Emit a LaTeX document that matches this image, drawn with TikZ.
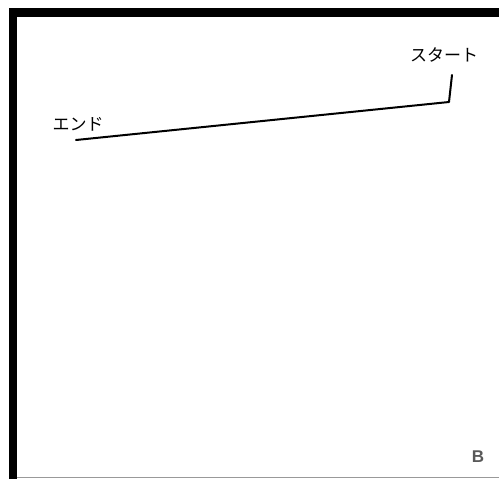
\documentclass[tikz,border=0pt]{standalone}
\usepackage{fontspec}
\newfontfamily\jp{Noto Sans CJK JP}
\setsansfont{Liberation Sans}
\begin{document}
\begin{tikzpicture}[x=1pt,y=-1pt,
  lbl/.style={inner sep=0pt,font=\jp\fontsize{17}{17}\selectfont},
  route/.style={line width=2pt,line join=round,line cap=round}]
\useasboundingbox (0,0) rectangle (499,479);
\fill[white] (0,0) rectangle (499,479);
% frame
\draw[gray!80,line width=1pt] (17,477) -- (499,477);
\fill[black] (9,8) rectangle (499,17);
\fill[black] (9,8) rectangle (17,479);
% labels
\node[lbl] (start) at (444,55) {スタート};
\node[lbl] (end) at (78,124) {エンド};
\node[inner sep=0pt,font=\sffamily\bfseries\fontsize{17}{17}\selectfont,text=black!65] (b) at (478,457) {B};
% route
\coordinate (s) at (452,75);
\coordinate (c) at (449,102);
\coordinate (e) at (76,140);
\draw[route] (s) -- (c) -- (e);
\end{tikzpicture}
\end{document}
